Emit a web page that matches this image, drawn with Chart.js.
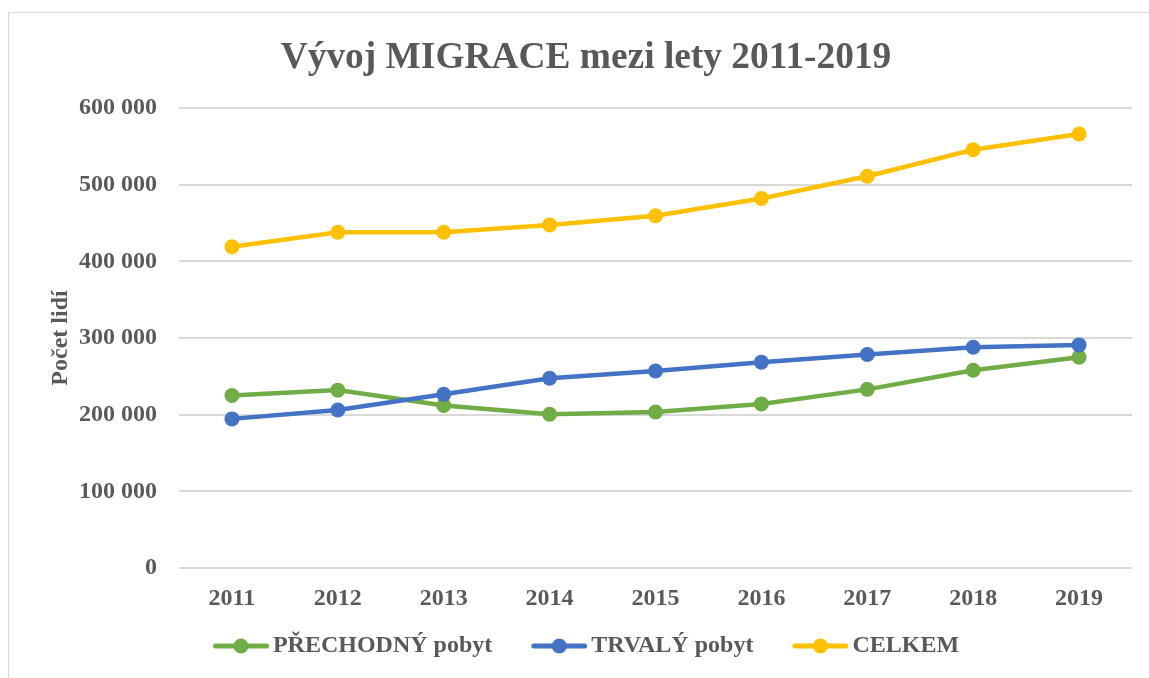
<!DOCTYPE html>
<html>
<head>
<meta charset="utf-8">
<script src="https://cdn.jsdelivr.net/npm/chart.js@4"></script>
<style>
  html, body { margin: 0; padding: 0; background: #ffffff; overflow: hidden; width: 1149px; height: 678px; }
  #frame { position: absolute; left: 8px; top: 12px; width: 1200px; height: 700px; border: 1px solid #d9d9d9; box-sizing: border-box; }
  #c { position: absolute; left: 0; top: 0; }
</style>
</head>
<body>
<div id="frame"></div>
<canvas id="c" width="1172" height="678"></canvas>
<script>
const years = ['2011','2012','2013','2014','2015','2016','2017','2018','2019'];
const prechodny = [225000, 232000, 212000, 200500, 203500, 214000, 233000, 258000, 275000];
const trvaly = [194500, 206000, 226500, 247500, 257000, 268500, 278500, 288000, 291000];
const celkem = [419000, 438000, 438000, 447500, 459500, 482000, 511000, 545500, 566000];
const seriesNames = ['PŘECHODNÝ pobyt', 'TRVALÝ pobyt', 'CELKEM'];
const seriesColors = ['#70AD47', '#4472C4', '#FFC000'];
const yTicks = [0, 100000, 200000, 300000, 400000, 500000, 600000];

const FONT = "'Liberation Serif', 'Times New Roman', serif";
const TEXT = '#595959';

// legend marker: a short line with a dot, 56px visible, drawn on a 64px canvas
function legendIcon(color) {
  const cv = document.createElement('canvas');
  cv.width = 64; cv.height = 24;
  const g = cv.getContext('2d');
  g.strokeStyle = color; g.lineWidth = 5; g.lineCap = 'round';
  g.beginPath(); g.moveTo(10.5, 12); g.lineTo(61.5, 12); g.stroke();
  g.fillStyle = color;
  g.beginPath(); g.arc(36, 12, 7.5, 0, Math.PI * 2); g.fill();
  return cv;
}

function fmt(v) {
  return String(v).replace(/\B(?=(\d{3})+(?!\d))/g, ' ');
}

const allData = [prechodny, trvaly, celkem];
const datasets = allData.map((d, i) => ({
  label: seriesNames[i],
  data: d,
  order: 3 - i,
  borderColor: seriesColors[i],
  backgroundColor: seriesColors[i],
  borderWidth: 4.5,
  pointRadius: 7.5,
  pointHoverRadius: 7.5,
  pointBackgroundColor: seriesColors[i],
  pointBorderColor: seriesColors[i],
  pointBorderWidth: 0,
  tension: 0,
  fill: false
}));

new Chart(document.getElementById('c'), {
  type: 'line',
  data: { labels: years, datasets },
  options: {
    responsive: false,
    devicePixelRatio: 1,
    animation: false,
    layout: { padding: { top: 12, left: 40, right: 40, bottom: 10 } },
    plugins: {
      title: {
        display: true,
        text: 'Vývoj MIGRACE mezi lety 2011-2019',
        color: TEXT,
        font: { family: FONT, size: 37.4, weight: 'bold' },
        padding: { top: 24, bottom: 27.1 }
      },
      legend: {
        position: 'bottom',
        labels: {
          color: TEXT,
          font: { family: FONT, size: 24, weight: 'bold' },
          usePointStyle: true,
          pointStyleWidth: 48,
          padding: 39,
          generateLabels: (chart) => chart.data.datasets.map((ds, i) => ({
            text: ds.label,
            fillStyle: ds.borderColor,
            strokeStyle: ds.borderColor,
            lineWidth: 0,
            pointStyle: legendIcon(ds.borderColor),
            datasetIndex: i,
            hidden: false,
            fontColor: TEXT
          }))
        }
      },
      tooltip: { enabled: false }
    },
    scales: {
      x: {
        offset: true,
        grid: { display: false, drawTicks: false },
        border: { display: false },
        ticks: {
          color: TEXT,
          font: { family: FONT, size: 24, weight: 'bold' },
          mirror: true,
          padding: -45,
          maxRotation: 0,
          autoSkip: false
        },
        afterFit: (s) => { s.height = 27; }
      },
      y: {
        min: 0,
        max: 600000,
        grid: { color: '#d9d9d9', lineWidth: 2, drawTicks: false },
        border: { display: false },
        afterBuildTicks: (s) => { s.ticks = yTicks.map(v => ({ value: v })); },
        ticks: {
          color: TEXT,
          font: { family: FONT, size: 24, weight: 'bold' },
          padding: 22,
          callback: (v) => fmt(v)
        },
        title: {
          display: true,
          text: 'Počet lidí',
          color: TEXT,
          font: { family: FONT, size: 24, weight: 'bold' },
          padding: { top: 6, bottom: 0 }
        },
        afterFit: (s) => { s.width = 139; }
      }
    }
  }
});
</script>
</body>
</html>
